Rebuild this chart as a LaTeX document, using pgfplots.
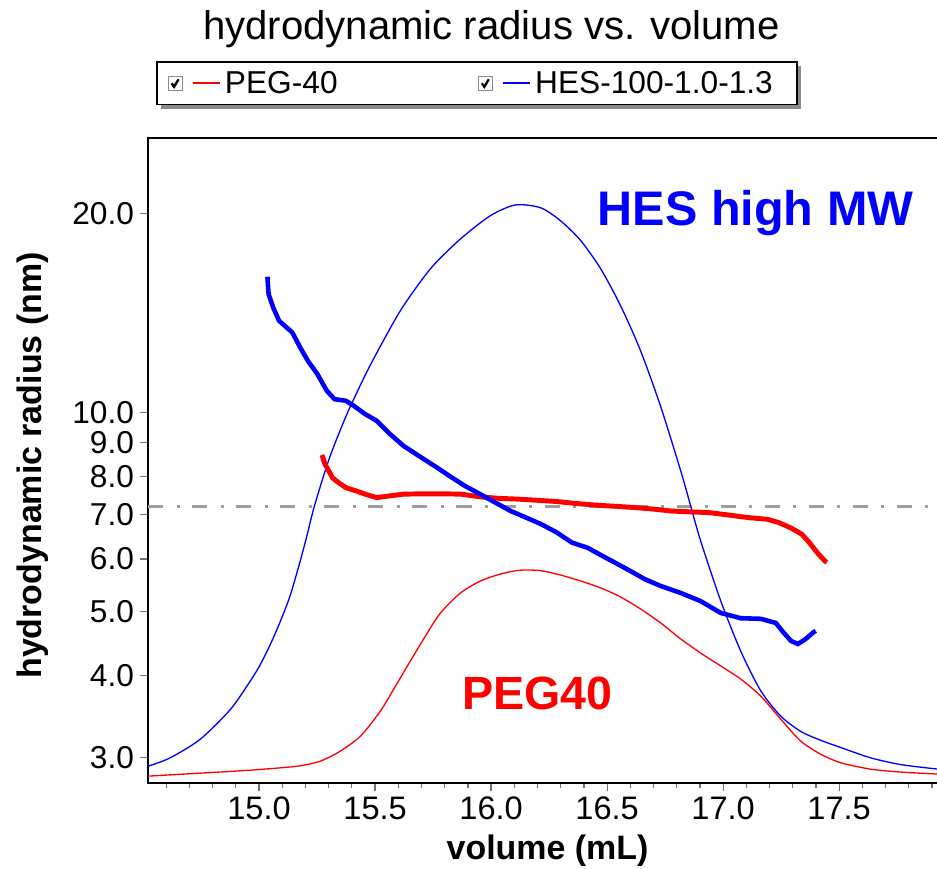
\documentclass[border=0pt]{standalone}
\usepackage{pgfplots}
\pgfplotsset{compat=1.18}
\usepackage{pgfplotstable}
\usepackage{fontspec}
\setmainfont{Liberation Sans}
\usetikzlibrary{calc}
\pgfdeclarelayer{background}
\pgfsetlayers{background,main}

% legend symbol: a ticked check box followed by a short line in the series colour
\newcommand{\checkline}[1]{%
  \draw[draw=black!45, fill=white, line width=0.6pt] (0cm,-0.14cm) rectangle (0.28cm,0.14cm);
  \draw[draw=black, line width=1.3pt] (0.07cm,0.0cm) -- (0.12cm,-0.07cm) -- (0.21cm,0.08cm);
  \pgfsetstrokecolor{#1}%
  \draw[color=#1, draw=#1, line width=1pt] (0.5cm,0cm) -- (1.04cm,0cm);}

% concentration traces (detector signal, scaled onto the radius axis)
\pgfplotstableread{
x y
14.522 2.914
14.617 3.00
14.746 3.20
14.876 3.55
14.962 3.92
15.005 4.15
15.048 4.45
15.091 4.82
15.134 5.28
15.177 5.95
15.206 6.50
15.234 7.12
15.270 7.85
15.307 8.60
15.350 9.40
15.393 10.2
15.480 11.8
15.609 14.25
15.739 16.5
15.868 18.3
15.997 19.85
16.105 20.6
16.213 20.4
16.299 19.5
16.386 18.2
16.472 16.5
16.558 14.5
16.644 12.4
16.731 10.2
16.817 8.16
16.860 7.22
16.903 6.39
16.990 5.18
17.076 4.35
17.162 3.79
17.248 3.47
17.334 3.29
17.420 3.19
17.507 3.11
17.636 3.00
17.766 2.93
17.925 2.885
}\hessig

\pgfplotstableread{
x y
14.522 2.815
14.746 2.844
14.962 2.874
15.165 2.914
15.264 2.966
15.350 3.071
15.437 3.236
15.523 3.531
15.588 3.853
15.652 4.204
15.717 4.587
15.782 4.971
15.868 5.329
15.954 5.556
16.041 5.693
16.127 5.77
16.213 5.76
16.299 5.673
16.386 5.556
16.472 5.424
16.558 5.256
16.644 5.04
16.731 4.80
16.817 4.54
16.903 4.323
16.990 4.131
17.076 3.948
17.162 3.721
17.248 3.434
17.334 3.181
17.420 3.039
17.507 2.949
17.636 2.884
17.766 2.855
17.925 2.835
}\pegsig

% hydrodynamic radius across the peaks
\pgfplotstableread{
x y
15.036 16.04
15.041 15.10
15.061 14.41
15.086 13.76
15.119 13.44
15.143 13.21
15.177 12.54
15.210 11.97
15.251 11.43
15.292 10.78
15.325 10.47
15.375 10.41
15.408 10.23
15.457 9.94
15.507 9.71
15.557 9.32
15.622 8.90
15.689 8.59
15.755 8.30
15.821 8.01
15.887 7.74
15.953 7.52
16.019 7.30
16.085 7.09
16.151 6.93
16.217 6.77
16.283 6.58
16.349 6.35
16.415 6.24
16.481 6.06
16.547 5.89
16.613 5.72
16.663 5.59
16.731 5.46
16.817 5.33
16.903 5.18
16.990 4.97
17.076 4.88
17.162 4.87
17.227 4.80
17.261 4.64
17.292 4.51
17.322 4.46
17.356 4.54
17.387 4.64
17.399 4.67
}\hesrh

\pgfplotstableread{
x y
15.271 8.62
15.284 8.35
15.301 8.15
15.317 7.96
15.342 7.83
15.375 7.69
15.416 7.61
15.457 7.52
15.507 7.43
15.557 7.47
15.622 7.52
15.704 7.53
15.788 7.53
15.870 7.52
15.953 7.45
16.035 7.41
16.118 7.39
16.200 7.36
16.283 7.33
16.365 7.28
16.448 7.24
16.531 7.21
16.613 7.18
16.695 7.14
16.778 7.09
16.860 7.07
16.943 7.05
17.026 6.99
17.108 6.93
17.191 6.89
17.240 6.81
17.290 6.69
17.339 6.54
17.372 6.35
17.406 6.13
17.438 5.96
17.447 5.93
}\pegrh

\begin{document}
\begin{tikzpicture}
\begin{axis}[
  name=ax,
  scale only axis,
  width=15.78cm, height=12.88cm,
  xmin=14.522, xmax=17.926,
  ymode=log, ymin=2.75, ymax=26,
  xtick={15.0,15.5,16.0,16.5,17.0,17.5},
  minor xtick={14.6,14.7,14.8,14.9,15.1,15.2,15.3,15.4,15.6,15.7,15.8,15.9,16.1,16.2,16.3,16.4,16.6,16.7,16.8,16.9,17.1,17.2,17.3,17.4,17.6,17.7,17.8,17.9},
  ytick={3,4,5,6,7,8,9,10,20},
  yticklabels={3.0,4.0,5.0,6.0,7.0,8.0,9.0,10.0,20.0},
  yminorticks=false,
  tick align=outside,
  tick pos=left,
  major tick length=0.16cm,
  minor tick length=0.11cm,
  tick style={black!55, line width=0.7pt},
  axis line style={black, line width=1.1pt},
  /pgf/number format/assume math mode=true,
  xticklabel style={font=\fontsize{18.5}{20}\selectfont, /pgf/number format/.cd, fixed, fixed zerofill, precision=1},
  yticklabel style={font=\fontsize{18}{20}\selectfont},
  xlabel={volume (mL)},
  ylabel={hydrodynamic radius (nm)},
  xlabel style={font=\bfseries\fontsize{19.3}{22}\selectfont, at={(rel axis cs:0.5057,-0.1056)}, anchor=center},
  ylabel style={font=\bfseries\fontsize{19.3}{22}\selectfont, at={(rel axis cs:-0.1458,0.4922)}, anchor=center},
  title={hydrodynamic radius vs. volume},
  title style={font=\fontsize{22.8}{26}\selectfont, at={(rel axis cs:0.4347,1.137)}, anchor=base},
  legend columns=2,
  legend style={
    name=leg,
    at={(rel axis cs:0.0114,1.118)}, anchor=north west,
    draw=none, fill=white,
    font=\fontsize{18}{20}\selectfont,
    inner xsep=0.2cm, inner ysep=0.1cm,
    nodes={inner xsep=0.08cm},
    /tikz/every even column/.append style={column sep=2.72cm},
  },
]
% reference radius
\addplot[forget plot, black!38, line width=2pt, dash pattern=on 0.30cm off 0.27cm on 0.06cm off 0.25cm]
  coordinates {(14.522,7.2) (17.926,7.2)};

\addplot[red, line width=0.75pt, smooth, tension=0.45,
  legend image code/.code={\checkline{red}}] table {\pegsig};
\addlegendentry{PEG-40}
\addplot[blue, line width=0.75pt, smooth, tension=0.45,
  legend image code/.code={\checkline{blue}}] table {\hessig};
\addlegendentry{HES-100-1.0-1.3}

\addplot[forget plot, red, line width=2.8pt] table {\pegrh};
\addplot[forget plot, blue, line width=2.6pt] table {\hesrh};

\node[anchor=base, blue, font=\bfseries\fontsize{27.6}{30}\selectfont] at (axis cs:17.14,19.16) {HES high MW};
\node[anchor=base, red, font=\bfseries\fontsize{26.5}{30}\selectfont] at (axis cs:16.20,3.556) {PEG40};
\end{axis}
% legend frame with its drop shadow, widened on the right
\begin{pgfonlayer}{background}
  \fill[black!45] ($(leg.south west)+(0.08cm,-0.08cm)$) rectangle ($(leg.north east)+(0.28cm,-0.08cm)$);
  \fill[white] (leg.south west) rectangle ($(leg.north east)+(0.2cm,0)$);
\end{pgfonlayer}
\draw[black, line width=1pt] (leg.south west) rectangle ($(leg.north east)+(0.2cm,0)$);
\pgfresetboundingbox
\useasboundingbox ($(ax.south west)+(-2.96cm,-1.72cm)$) rectangle ($(ax.south west)+(15.76cm,15.64cm)$);
\end{tikzpicture}
\end{document}
